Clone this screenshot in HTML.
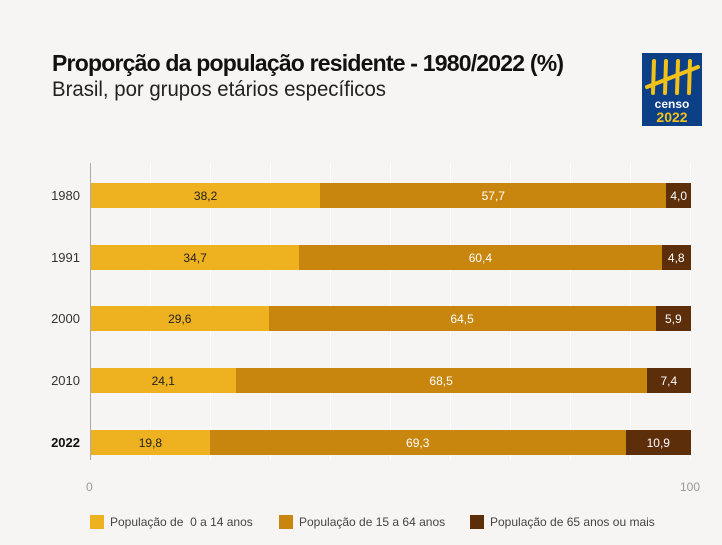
<!DOCTYPE html><html><head><meta charset="utf-8"><style>
body{margin:0;width:722px;height:545px;background:#f6f5f3;font-family:"Liberation Sans",sans-serif;position:relative;overflow:hidden}
.t{position:absolute;left:52px;top:50px;font-size:23px;font-weight:bold;color:#111;letter-spacing:-0.8px;transform:scaleX(1);transform-origin:left}
.s{position:absolute;left:52px;top:78px;font-size:21px;color:#222;transform:scaleX(0.97);transform-origin:left}
.g{position:absolute;top:163px;height:297px;width:1px;background:#fff}
.row{position:absolute;left:91px;height:25px;display:flex;width:600px}
.row div{height:100%;display:flex;align-items:center;justify-content:center;font-size:12px;color:#222}
.a{background:#eeb120}.b{background:#c8860f;color:#fff!important}.c{background:#5c2e0a;color:#fff!important}
.yl{position:absolute;left:40px;width:40px;text-align:right;font-size:13px;color:#333}
.lg{position:absolute;top:515px;font-size:12px;color:#444;display:flex;align-items:center}
.lg i{display:inline-block;width:14px;height:14px;margin-right:6px}
</style></head><body>
<div class="t">Proporção da população residente - 1980/2022 (%)</div>
<div class="s">Brasil, por grupos etários específicos</div>
<svg style="position:absolute;left:642px;top:53px" width="60" height="73"><rect width="60" height="73" fill="#0d3f86"/>
<g stroke="#f3c21a" stroke-width="4" stroke-linecap="round"><line x1="12" y1="8" x2="11" y2="40"/><line x1="24" y1="8" x2="23" y2="40"/><line x1="36" y1="8" x2="35" y2="40"/><line x1="48" y1="8" x2="47" y2="40"/><line x1="5" y1="34" x2="56" y2="14"/></g>
<text x="30" y="55" fill="#fff" font-size="12" font-weight="bold" text-anchor="middle" font-family="Liberation Sans">censo</text>
<text x="30" y="69" fill="#f3c21a" font-size="14" font-weight="bold" text-anchor="middle" font-family="Liberation Sans">2022</text></svg>
<div class="g" style="left:150px"></div><div class="g" style="left:210px"></div><div class="g" style="left:270px"></div><div class="g" style="left:330px"></div><div class="g" style="left:390px"></div><div class="g" style="left:450px"></div><div class="g" style="left:510px"></div><div class="g" style="left:570px"></div><div class="g" style="left:630px"></div><div class="g" style="left:690px"></div>
<div style="position:absolute;left:90px;top:163px;width:1px;height:297px;background:#aaa"></div>
<div class="row" style="top:183px"><div class="a" style="width:38.2%">38,2</div><div class="b" style="width:57.7%">57,7</div><div class="c" style="width:4.1%">4,0</div></div>
<div class="row" style="top:245px"><div class="a" style="width:34.7%">34,7</div><div class="b" style="width:60.4%">60,4</div><div class="c" style="width:4.9%">4,8</div></div>
<div class="row" style="top:306px"><div class="a" style="width:29.6%">29,6</div><div class="b" style="width:64.5%">64,5</div><div class="c" style="width:5.9%">5,9</div></div>
<div class="row" style="top:368px"><div class="a" style="width:24.1%">24,1</div><div class="b" style="width:68.5%">68,5</div><div class="c" style="width:7.4%">7,4</div></div>
<div class="row" style="top:430px"><div class="a" style="width:19.8%">19,8</div><div class="b" style="width:69.3%">69,3</div><div class="c" style="width:10.9%">10,9</div></div>
<div class="yl" style="top:188px">1980</div><div class="yl" style="top:250px">1991</div><div class="yl" style="top:311px">2000</div><div class="yl" style="top:373px">2010</div><div class="yl" style="top:435px;font-weight:bold;color:#111">2022</div>
<div style="position:absolute;left:86px;top:480px;font-size:12px;color:#999">0</div>
<div style="position:absolute;left:680px;top:480px;font-size:12px;color:#999">100</div>
<div class="lg" style="left:90px"><i class="a"></i>População de &nbsp;0 a 14 anos</div>
<div class="lg" style="left:279px"><i class="b"></i>População de 15 a 64 anos</div>
<div class="lg" style="left:470px"><i class="c"></i>População de 65 anos ou mais</div>
</body></html>
